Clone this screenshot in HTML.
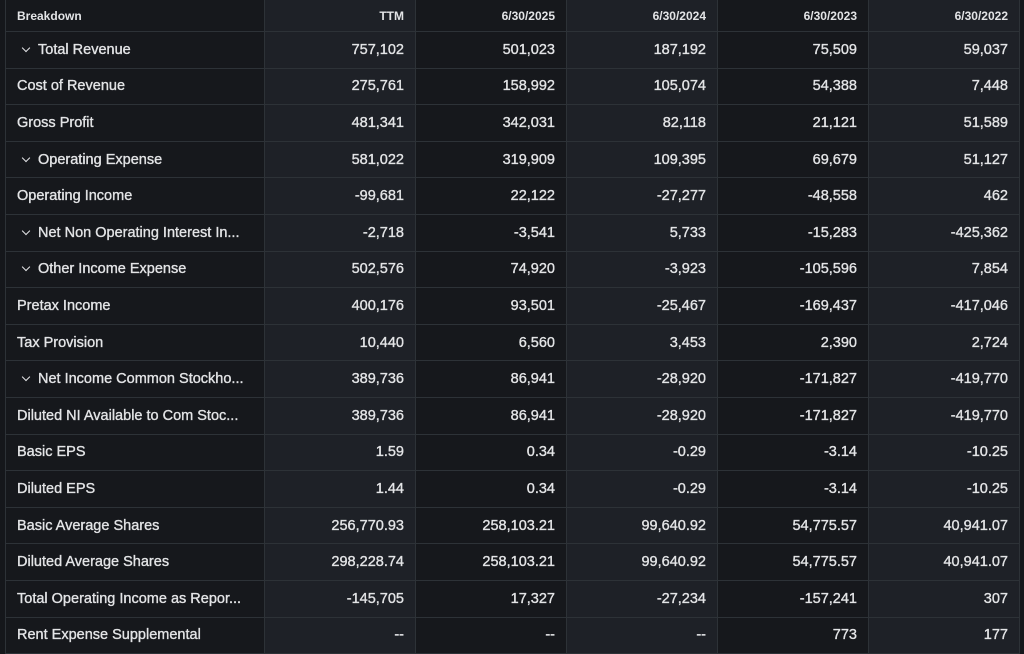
<!DOCTYPE html>
<html><head><meta charset="utf-8"><style>
html,body{margin:0;padding:0;background:#15171b;width:1024px;height:654px;overflow:hidden}
table{position:absolute;left:5px;top:-1px;border-collapse:collapse;table-layout:fixed;font-family:"Liberation Sans",sans-serif;color:#e3e4e6}
td,th{border:1px solid #2d3237;padding:0 11px;white-space:nowrap;overflow:hidden;text-overflow:ellipsis}
th{height:31px;font-size:12px;font-weight:bold;text-align:right}
th:first-child{text-align:left}
td{height:35.6px;font-size:14.5px;text-align:right;-webkit-text-stroke:0.35px #e3e4e6}
td:first-child{text-align:left;padding-left:11px}
.c0,.c2,.c4{background:#16181c}
.c1,.c3,.c5{background:#1e2127}
.chev{display:inline-block;width:5px;height:5px;border-right:1.3px solid #e3e4e6;border-bottom:1.3px solid #e3e4e6;transform:rotate(45deg);margin:0 9px 3px 6px}
</style></head><body>
<table>
<colgroup><col style="width:259px"><col style="width:151px"><col style="width:151px"><col style="width:151px"><col style="width:151px"><col style="width:151px"></colgroup>
<thead><tr>
<th class="c0">Breakdown</th>
<th class="c1">TTM</th>
<th class="c2">6/30/2025</th>
<th class="c3">6/30/2024</th>
<th class="c4">6/30/2023</th>
<th class="c5">6/30/2022</th>
</tr></thead>
<tbody id="tb"></tbody>
</table>
<script>
const rows=[
["Total Revenue",1,["757,102","501,023","187,192","75,509","59,037"]],
["Cost of Revenue",0,["275,761","158,992","105,074","54,388","7,448"]],
["Gross Profit",0,["481,341","342,031","82,118","21,121","51,589"]],
["Operating Expense",1,["581,022","319,909","109,395","69,679","51,127"]],
["Operating Income",0,["-99,681","22,122","-27,277","-48,558","462"]],
["Net Non Operating Interest In...",1,["-2,718","-3,541","5,733","-15,283","-425,362"]],
["Other Income Expense",1,["502,576","74,920","-3,923","-105,596","7,854"]],
["Pretax Income",0,["400,176","93,501","-25,467","-169,437","-417,046"]],
["Tax Provision",0,["10,440","6,560","3,453","2,390","2,724"]],
["Net Income Common Stockho...",1,["389,736","86,941","-28,920","-171,827","-419,770"]],
["Diluted NI Available to Com Stoc...",0,["389,736","86,941","-28,920","-171,827","-419,770"]],
["Basic EPS",0,["1.59","0.34","-0.29","-3.14","-10.25"]],
["Diluted EPS",0,["1.44","0.34","-0.29","-3.14","-10.25"]],
["Basic Average Shares",0,["256,770.93","258,103.21","99,640.92","54,775.57","40,941.07"]],
["Diluted Average Shares",0,["298,228.74","258,103.21","99,640.92","54,775.57","40,941.07"]],
["Total Operating Income as Repor...",0,["-145,705","17,327","-27,234","-157,241","307"]],
["Rent Expense Supplemental",0,["--","--","--","773","177"]]
];
const tb=document.getElementById('tb');
rows.forEach(r=>{
const tr=document.createElement('tr');


const td=document.createElement('td');td.className='c0';


td.innerHTML=(r[1]?'<span class="chev"></span>':'')+r[0];
tr.appendChild(td);
r[2].forEach((v,i)=>{const c=document.createElement('td');c.className='c'+(i+1);


c.textContent=v;tr.appendChild(c);});
tb.appendChild(tr);
});
</script>
</body></html>
